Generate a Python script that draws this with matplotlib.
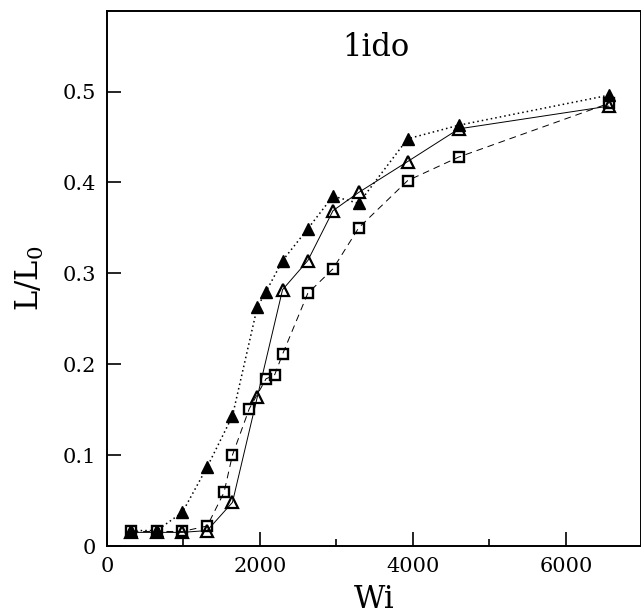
import matplotlib
matplotlib.use("Agg")
import matplotlib.pyplot as plt

# Wi values and L/L0 for the three runs
wi_filled = [320, 650, 985, 1310, 1640, 1965, 2080, 2295, 2625, 2955, 3290, 3930, 4600, 6560]
l_filled = [0.017, 0.017, 0.037, 0.087, 0.143, 0.263, 0.280, 0.314, 0.349, 0.385, 0.377, 0.448, 0.463, 0.496]

wi_open = [320, 650, 985, 1310, 1640, 1965, 2295, 2625, 2955, 3290, 3930, 4600, 6560]
l_open = [0.015, 0.015, 0.015, 0.017, 0.048, 0.164, 0.282, 0.314, 0.369, 0.389, 0.423, 0.459, 0.484]

wi_square = [320, 650, 985, 1310, 1530, 1640, 1860, 2080, 2190, 2295, 2625, 2955, 3290, 3930, 4600, 6560]
l_square = [0.016, 0.016, 0.016, 0.022, 0.059, 0.100, 0.151, 0.184, 0.188, 0.211, 0.278, 0.305, 0.350, 0.402, 0.428, 0.487]

x_ticks = [0, 2000, 4000, 6000]
x_minor = [1000, 3000, 5000]
y_ticks = [0, 0.1, 0.2, 0.3, 0.4, 0.5]
y_ticklabels = ["0", "0.1", "0.2", "0.3", "0.4", "0.5"]

plt.rcParams["font.family"] = ["DejaVu Serif"]
plt.rcParams["mathtext.fontset"] = "dejavuserif"

fig = plt.figure(figsize=(6.41, 6.16), dpi=100)
ax = fig.add_axes([107 / 641, 1 - 546 / 616, (640.5 - 107) / 641, (546 - 10.7) / 616])

ax.plot(wi_filled, l_filled, linestyle=(0, (1, 2.0)), color="black", linewidth=1.1,
        marker="^", markersize=8, markerfacecolor="black", markeredgecolor="black", zorder=3)
ax.plot(wi_open, l_open, linestyle="-", color="black", linewidth=0.7,
        marker="^", markersize=8.5, markerfacecolor="none", markeredgecolor="black",
        markeredgewidth=1.6, zorder=2)
ax.plot(wi_square, l_square, linestyle=(0, (7, 5)), color="black", linewidth=0.7,
        marker="s", markersize=7, markerfacecolor="none", markeredgecolor="black",
        markeredgewidth=1.7, zorder=2)

ax.set_xlim(0, 6975)
ax.set_ylim(0, 0.589)

ax.set_xticks(x_ticks)
ax.set_xticks(x_minor, minor=True)
ax.set_yticks(y_ticks)
ax.set_yticklabels(y_ticklabels)
ax.tick_params(axis="both", which="major", direction="in", length=10, width=1.2,
               labelsize=15, pad=8)
ax.tick_params(axis="x", which="minor", direction="in", length=5, width=1.2)
ax.tick_params(top=False, right=False)

for s in ax.spines.values():
    s.set_linewidth(1.4)

ax.set_xlabel("Wi", fontsize=22, labelpad=6)
ax.set_ylabel(r"L/L$_0$", fontsize=22, labelpad=12)

ax.text(3520, 0.549, "1ido", fontsize=22, ha="center", va="center")

fig.savefig("out.png", dpi=100)
